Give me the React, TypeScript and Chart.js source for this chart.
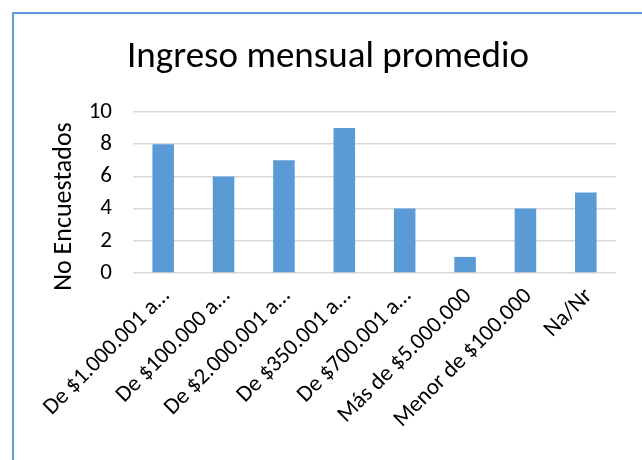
import React, { useEffect, useRef } from "react";
import { Chart, registerables } from "chart.js";

Chart.register(...registerables);

const chartTitle = "Ingreso mensual promedio";
const yAxisTitle = "No Encuestados";
const categories = [
  "De $1.000.001 a…",
  "De $100.000 a…",
  "De $2.000.001 a…",
  "De $350.001 a…",
  "De $700.001 a…",
  "Más de $5.000.000",
  "Menor de $100.000",
  "Na/Nr",
];
const respondents = [8, 6, 7, 9, 4, 1, 4, 5];
const yMin = 0;
const yMax = 10;
const yStep = 2;

const FONT = "Carlito, Calibri, Lato, sans-serif";
const BAR_COLOR = "#5b9bd5";
const GRID_COLOR = "#d9d9d9";

const yTitlePlugin = {
  id: "yTitleCustom",
  afterDraw(chart: any) {
    const { ctx, chartArea } = chart;
    ctx.save();
    ctx.font = `26px ${FONT}`;
    ctx.fillStyle = "#000";
    ctx.textAlign = "center";
    ctx.textBaseline = "middle";
    ctx.translate(chartArea.left - 69, (chartArea.top + chartArea.bottom) / 2 + 14);
    ctx.rotate(-Math.PI / 2);
    ctx.fillText(yAxisTitle, 0, 0);
    ctx.restore();
  },
};

export default function App() {
  const canvasRef = useRef<HTMLCanvasElement | null>(null);

  useEffect(() => {
    if (!canvasRef.current) return;
    const chart = new Chart(canvasRef.current, {
      type: "bar",
      data: {
        labels: categories,
        datasets: [
          {
            label: yAxisTitle,
            data: respondents,
            backgroundColor: BAR_COLOR,
            borderWidth: 0,
            categoryPercentage: 1,
            barPercentage: 0.357,
          },
        ],
      },
      options: {
        animation: false,
        responsive: false,
        maintainAspectRatio: false,
        layout: { padding: { left: 40, right: 26, top: 0, bottom: 0 } },
        plugins: {
          legend: { display: false },
          tooltip: { enabled: false },
          title: {
            display: true,
            text: chartTitle,
            color: "#000",
            font: { family: FONT, size: 37, weight: "normal" },
            padding: { top: 36, bottom: 31.6 },
          },
        },
        scales: {
          x: {
            grid: { display: false, drawTicks: false },
            border: { display: false },
            ticks: {
              color: "#000",
              font: { family: FONT, size: 23 },
              maxRotation: 45,
              minRotation: 45,
              autoSkip: false,
              padding: 10,
              labelOffset: 3,
            },
            afterFit(scale: any) {
              scale.height = 187;
            },
          },
          y: {
            min: yMin,
            max: yMax,
            grid: { color: GRID_COLOR, lineWidth: 1.5, drawTicks: false },
            border: { display: false },
            ticks: {
              stepSize: yStep,
              color: "#000",
              font: { family: FONT, size: 23 },
              padding: 21,
            },
            afterFit(scale: any) {
              scale.width = 93;
            },
          },
        },
      },
      plugins: [yTitlePlugin],
    });
    return () => chart.destroy();
  }, []);

  return (
    <div
      style={{
        position: "fixed",
        left: 0,
        top: 0,
        width: 642,
        height: 460,
        overflow: "hidden",
        background: "#fff",
      }}
    >
      <div
        style={{
          position: "absolute",
          left: 12,
          top: 12,
          width: 700,
          height: 520,
          border: "2px solid #5b9bd5",
          boxSizing: "border-box",
        }}
      />
      <canvas
        ref={canvasRef}
        width={642}
        height={460}
        style={{ position: "absolute", left: 0, top: 0, width: 642, height: 460 }}
      />
    </div>
  );
}
